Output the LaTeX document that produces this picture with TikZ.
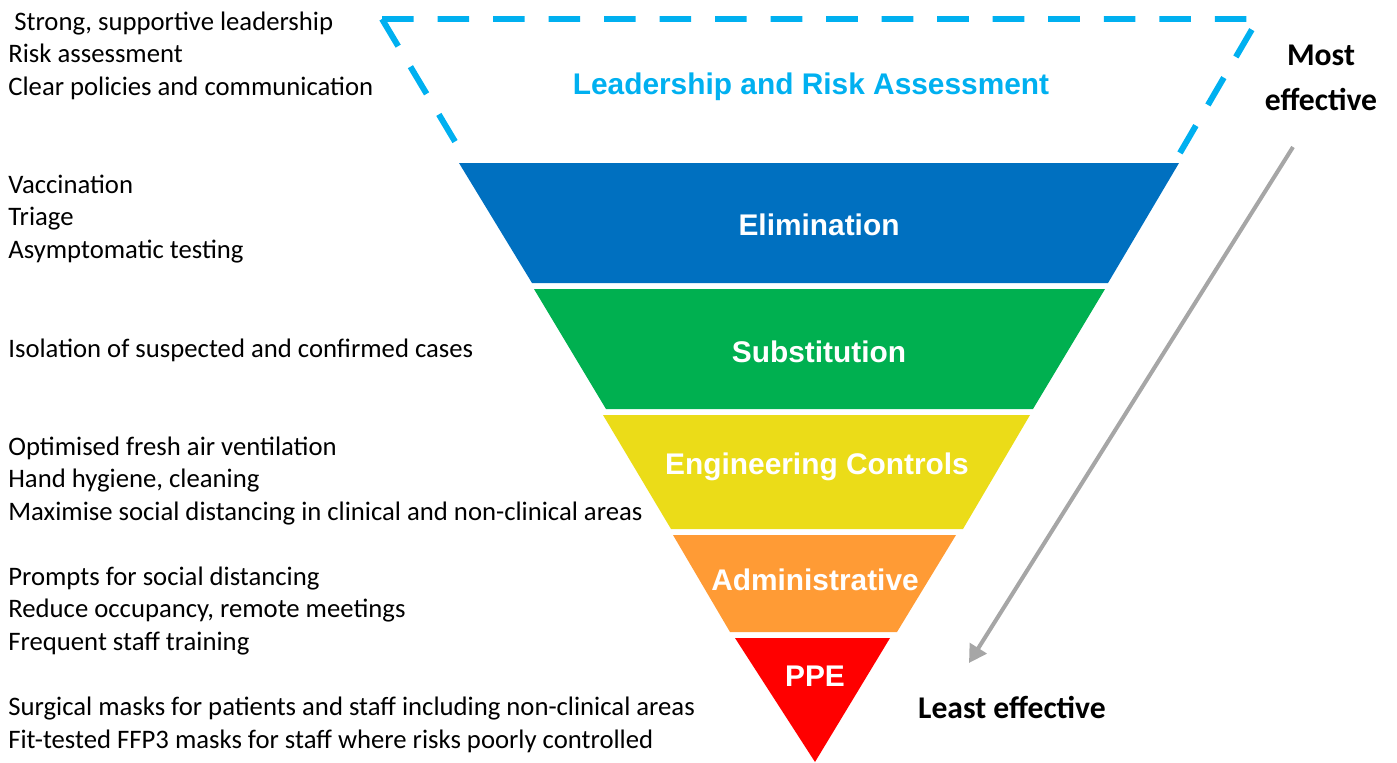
\documentclass[tikz,border=0pt]{standalone}
\usepackage{fontspec}
\setmainfont{Carlito}
\newfontfamily\headfont{Liberation Sans}
\usetikzlibrary{arrows.meta}

\definecolor{leadblue}{HTML}{00B0F0}
\definecolor{elimblue}{HTML}{0070C0}
\definecolor{substgreen}{HTML}{00B050}
\definecolor{enginyellow}{HTML}{EBDC18}
\definecolor{adminorange}{HTML}{FF9B35}
\definecolor{ppered}{HTML}{FF0000}
\definecolor{arrowgray}{HTML}{A6A6A6}

\tikzstyle{leadframe} = [
    draw=leadblue,
    line width=3.4pt,
    dash pattern=on 18pt off 13.6pt
]
\tikzstyle{bandlabel} = [
    font=\headfont\bfseries\fontsize{17}{20}\selectfont,
    text=white,
    anchor=base,
    inner sep=0pt
]
\tikzstyle{sidenote} = [
    font=\fontsize{15.2}{18.4}\selectfont,
    align=left,
    anchor=base west,
    inner sep=0pt
]
\tikzstyle{effect} = [
    font=\bfseries\fontsize{18}{25.5}\selectfont,
    align=center,
    anchor=base,
    inner sep=0pt
]
\tikzstyle{arrow} = [draw=arrowgray, line width=2.3pt, -{Triangle[length=10pt,width=11pt]}]

\begin{document}
\begin{tikzpicture}[x=0.02cm, y=-0.02cm]
\useasboundingbox (0,0) rectangle (1397,762);

% dashed top of the funnel
\coordinate (topleft) at (382,19);
\coordinate (topright) at (1258,19);
\draw[leadframe] (topleft) -- (topright) -- (1177,158);
\draw[leadframe] (topleft) -- (466,160);

% bands
\fill[elimblue] (459,163) -- (1179,163) -- (1108,283) -- (532,283) -- cycle;
\fill[substgreen] (534,289) -- (1105,289) -- (1033,409) -- (606,409) -- cycle;
\fill[enginyellow] (603,415) -- (1030,415) -- (963,529) -- (671,529) -- cycle;
\fill[adminorange] (673,535) -- (956,535) -- (897,632) -- (730,632) -- cycle;
\fill[ppered] (735,638) -- (890,638) -- (815,762) -- cycle;

\node (lead) [bandlabel, text=leadblue] at (811,94) {Leadership and Risk Assessment};
\node (elim) [bandlabel] at (819,235) {Elimination};
\node (subst) [bandlabel] at (819,362) {Substitution};
\node (engin) [bandlabel] at (817,474) {Engineering Controls};
\node (admin) [bandlabel] at (815,590) {Administrative};
\node (ppe) [bandlabel] at (815,686) {PPE};

% measures on the left (placed by their last line)
\node (leadnote) [sidenote] at (8,95)
{\ Strong, supportive leadership\\Risk assessment\\Clear policies and communication};
\node (elimnote) [sidenote] at (8,258)
{Vaccination\\Triage\\Asymptomatic testing};
\node (substnote) [sidenote] at (8,357)
{Isolation of suspected and confirmed cases};
\node (enginnote) [sidenote] at (8,520)
{Optimised fresh air ventilation\\Hand hygiene, cleaning\\Maximise social distancing in clinical and non-clinical areas};
\node (adminnote) [sidenote] at (8,650)
{Prompts for social distancing\\Reduce occupancy, remote meetings\\Frequent staff training};
\node (ppenote) [sidenote] at (8,748)
{Surgical masks for patients and staff including non-clinical areas\\Fit-tested FFP3 masks for staff where risks poorly controlled};

% effectiveness
\node (most) [effect] at (1321,110) {Most\\effective};
\node (least) [effect] at (1012,718) {Least effective};

\coordinate (moststart) at (1293,147);
\coordinate (leastend) at (969,663);
\draw [arrow] (moststart) -- (leastend);

\end{tikzpicture}
\end{document}
